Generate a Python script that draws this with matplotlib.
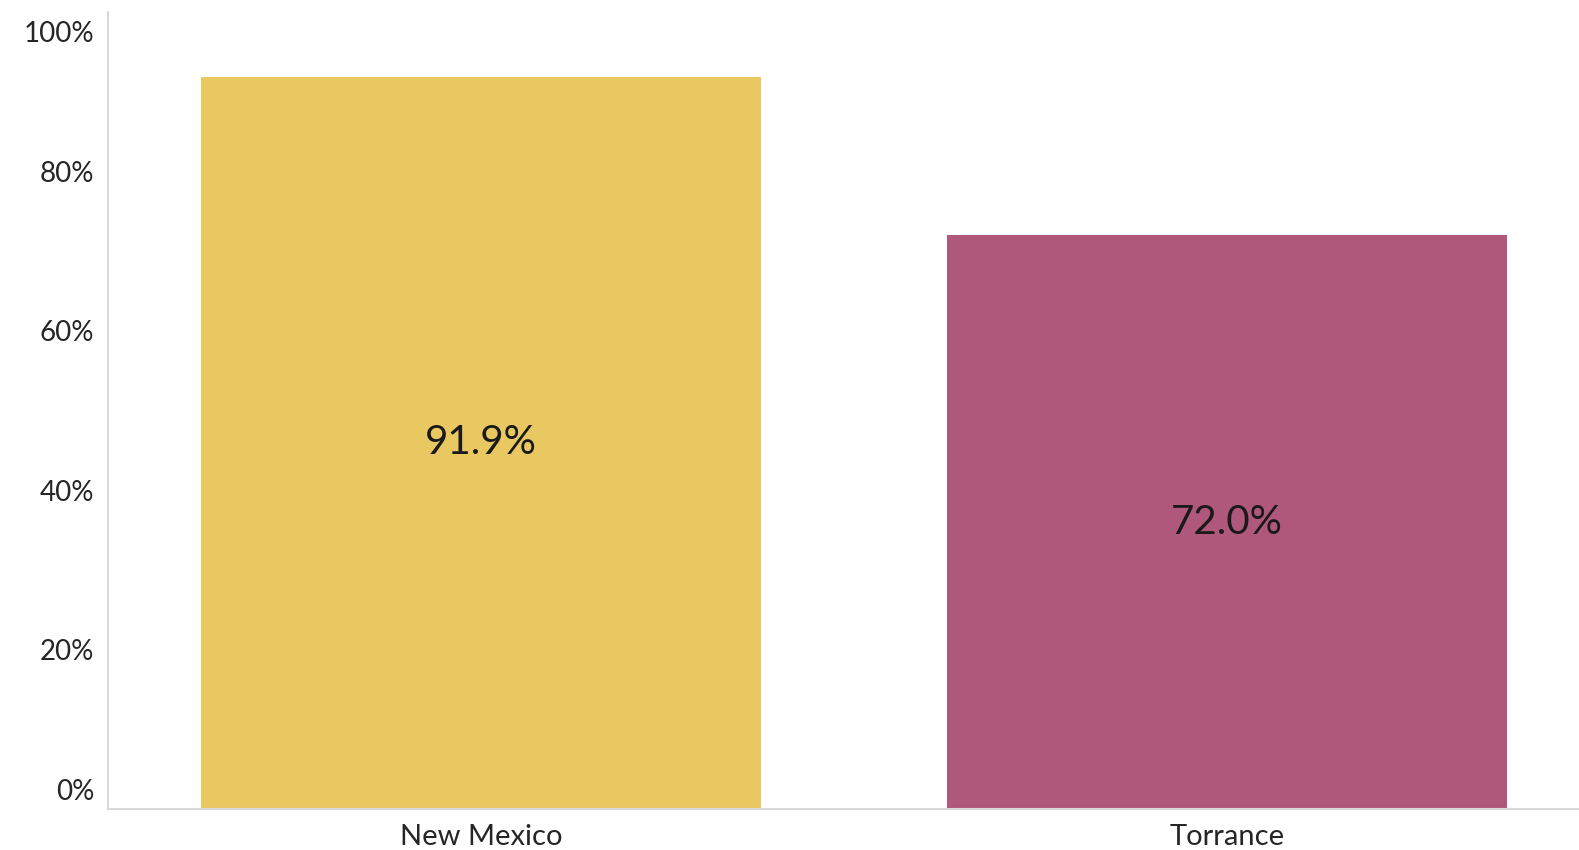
import numpy as np
from matplotlib import pyplot as plt
from matplotlib.transforms import ScaledTranslation

plt.rcParams['font.family'] = ['Lato', 'DejaVu Sans']

regions = ['New Mexico', 'Torrance']
values = [91.9, 72.0]
colors = ['#E9C862', '#AF587C']
yticks = [0, 20, 40, 60, 80, 100]

fig = plt.figure(figsize=(15.79, 8.5), dpi=100)
# axis runs a little past the right edge, like the Excel export
ax = fig.add_axes([108/1579, 41/850, 1492/1579, 797/850])

x = np.arange(len(regions))
bars = ax.bar(x, values, width=0.752, color=colors)

for b, v in zip(bars, values):
    ax.text(b.get_x() + b.get_width()/2, v/2, f'{v:.1f}%',
            ha='center', va='center', fontsize=29, color='#1a1a1a')

ax.set_xlim(-0.5, 1.5)
ax.set_ylim(0, 100)
ax.set_xticks(x)
ax.set_xticklabels(regions, fontsize=21, color='#262626')
ax.set_yticks(yticks)
ax.set_yticklabels([f'{t}%' for t in yticks], fontsize=20, color='#262626')
ax.tick_params(axis='both', length=0)
ax.tick_params(axis='y', pad=10)
ax.tick_params(axis='x', pad=10.5)

# Excel keeps end labels inside the plot
labels = ax.get_yticklabels()
labels[0].set_transform(labels[0].get_transform() + ScaledTranslation(0, 14/72, fig.dpi_scale_trans))
labels[-1].set_transform(labels[-1].get_transform() + ScaledTranslation(0, -14/72, fig.dpi_scale_trans))

for s in ['top', 'right']:
    ax.spines[s].set_visible(False)
for s in ['left', 'bottom']:
    ax.spines[s].set_color('#D9D9D9')
    ax.spines[s].set_linewidth(1.5)

fig.savefig('out.png', dpi=100)
